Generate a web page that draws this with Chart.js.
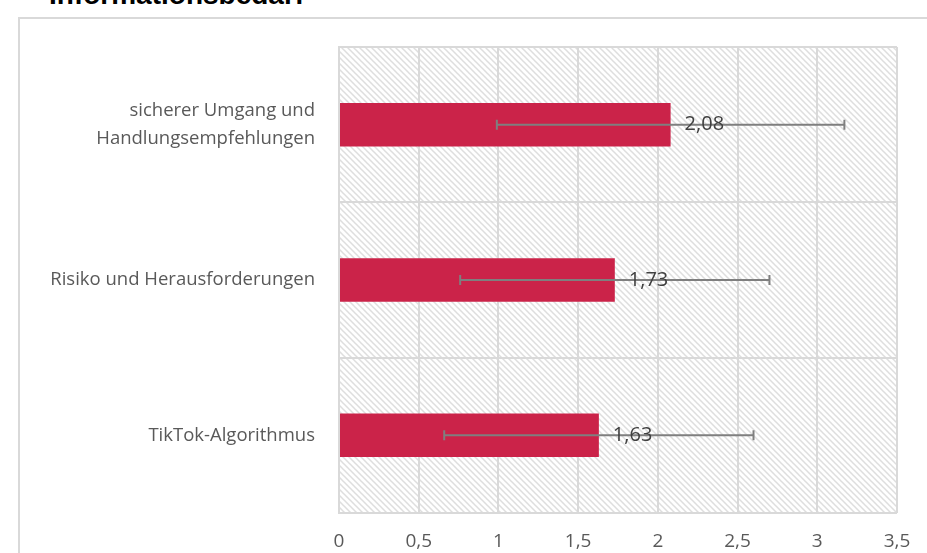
<!DOCTYPE html>
<html>
<head>
<meta charset="utf-8">
<script src="https://cdn.jsdelivr.net/npm/chart.js@4"></script>
<style>
  body { margin: 0; background: #fff; overflow: hidden; width: 927px; height: 553px; position: relative; }
  #title { position: absolute; left: 49px; top: -19px; font: bold 28px "Liberation Sans", sans-serif; line-height: 28px; color: #000; white-space: nowrap; }
  #frame { position: absolute; left: 18px; top: 17px; width: 930px; height: 560px; border: 2px solid #d9d9d9; box-sizing: border-box; }
  #myChart { position: absolute; left: 20px; top: 20px; }
</style>
</head>
<body>
<div id="title">Informationsbedarf</div>
<div id="frame"></div>
<canvas id="myChart" width="907" height="533"></canvas>
<script>
// categories, top to bottom
var CATEGORIES = [
    ['sicherer Umgang und', 'Handlungsempfehlungen'],
    'Risiko und Herausforderungen',
    'TikTok-Algorithmus'
];
var MEANS = [2.08, 1.73, 1.63];
var SDS = [1.09, 0.97, 0.97];
var TICKS = [0, 0.5, 1, 1.5, 2, 2.5, 3, 3.5];

var BAR_COLOR = '#CB2349';
var GRID = '#d9d9d9';
var FONT = '"Open Sans", sans-serif';

function fmt(v) {
    return String(v).replace('.', ',');
}

function hatch() {
    var c = document.createElement('canvas');
    c.width = 6; c.height = 6;
    var g = c.getContext('2d');
    g.fillStyle = '#fff';
    g.fillRect(0, 0, 6, 6);
    g.strokeStyle = '#dedede';
    g.lineWidth = 1.5;
    g.beginPath();
    g.moveTo(-1, -1); g.lineTo(7, 7);
    g.moveTo(-1, 5); g.lineTo(1, 7);
    g.moveTo(5, -1); g.lineTo(7, 1);
    g.stroke();
    return g.createPattern(c, 'repeat');
}

var bgPlugin = {
    id: 'bg',
    beforeDraw: function(chart) {
        var a = chart.chartArea, ctx = chart.ctx;
        ctx.save();
        ctx.fillStyle = hatch();
        ctx.fillRect(a.left, a.top, a.right - a.left, a.bottom - a.top);
        ctx.restore();
    }
};

// error bars (± SD) and value labels
var errPlugin = {
    id: 'err',
    afterDatasetsDraw: function(chart) {
        var ctx = chart.ctx, x = chart.scales.x;
        var meta = chart.getDatasetMeta(0);
        ctx.save();
        meta.data.forEach(function(bar, i) {
            var y = bar.y;
            var x0 = x.getPixelForValue(MEANS[i] - SDS[i]);
            var x1 = x.getPixelForValue(MEANS[i] + SDS[i]);
            ctx.strokeStyle = '#7f7f7f';
            ctx.lineWidth = 2;
            ctx.beginPath();
            ctx.moveTo(x0, y); ctx.lineTo(x1, y);
            ctx.moveTo(x0, y - 5); ctx.lineTo(x0, y + 5);
            ctx.moveTo(x1, y - 5); ctx.lineTo(x1, y + 5);
            ctx.stroke();
            ctx.fillStyle = '#404040';
            ctx.font = '20px ' + FONT;
            ctx.textAlign = 'left';
            ctx.textBaseline = 'middle';
            ctx.fillText(fmt(MEANS[i]), bar.x + 14, y);
        });
        ctx.restore();
    }
};

var ctx = document.getElementById('myChart').getContext('2d');
var myChart = new Chart(ctx, {
    type: 'bar',
    data: {
        labels: CATEGORIES,
        datasets: [{
            data: MEANS,
            backgroundColor: BAR_COLOR,
            barPercentage: 0.28,
            categoryPercentage: 1
        }]
    },
    options: {
        indexAxis: 'y',
        responsive: false,
        animation: false,
        layout: { padding: { top: 27, right: 30, left: 0, bottom: 0 } },
        plugins: {
            legend: { display: false },
            tooltip: { enabled: false }
        },
        scales: {
            x: {
                min: 0,
                max: 3.5,
                afterBuildTicks: function(scale) {
                    scale.ticks = TICKS.map(function(v) { return { value: v }; });
                },
                afterFit: function(scale) {
                    scale.height = 40;
                    scale.paddingLeft = 0;
                    scale.paddingRight = 0;
                },
                grid: { color: GRID, lineWidth: 2, drawTicks: false },
                border: { display: false },
                ticks: {
                    padding: 17,
                    color: '#595959',
                    font: { family: FONT, size: 19 },
                    callback: function(v) { return fmt(v); }
                }
            },
            y: {
                afterFit: function(scale) {
                    scale.width = 319;
                    scale.paddingTop = 0;
                    scale.paddingBottom = 0;
                },
                grid: { color: GRID, lineWidth: 2, drawTicks: false, offset: true },
                border: { color: GRID, width: 2 },
                ticks: {
                    padding: 24,
                    color: '#595959',
                    font: { family: FONT, size: 18.5, lineHeight: 1.5 }
                }
            }
        }
    },
    plugins: [bgPlugin, errPlugin]
});
</script>
</body>
</html>
